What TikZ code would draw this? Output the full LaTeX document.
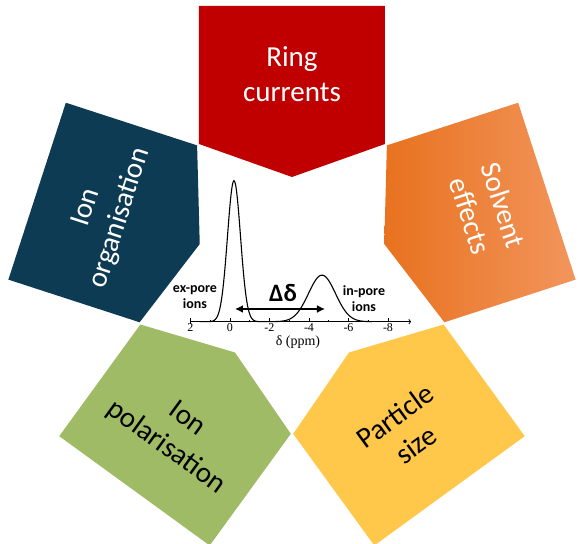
\documentclass[tikz,border=0pt]{standalone}
\usepackage{fontspec}
\setmainfont{Carlito}
\newfontfamily\axisfont{Liberation Serif}
\usetikzlibrary{arrows.meta}

\definecolor{ringred}{HTML}{C00000}
\definecolor{solvlight}{HTML}{F2955C}
\definecolor{solvdark}{HTML}{E8721F}
\definecolor{orgblue}{HTML}{0D3B53}
\definecolor{polgreen}{HTML}{9FBB65}
\definecolor{partyellow}{HTML}{FFC84A}

\begin{document}
\begin{tikzpicture}[
  x=1pt, y=1pt,
  petal/.style={draw=none},
  petal text/.style={font=\fontsize{29}{35}\selectfont, align=center},
  ion text/.style={font=\fontsize{14}{16}\selectfont\bfseries, align=center},
  ticklabel/.style={font=\axisfont\fontsize{12}{12}\selectfont, inner sep=0pt},
  spectrum/.style={line width=1.1pt},
  dd arrow/.style={{Latex[length=8pt,width=8pt]}-{Latex[length=8pt,width=8pt]}, line width=1.8pt}
]
\useasboundingbox (-292,-270) rectangle (287,274);

% Petals (all the same shape, turned round the centre)
\fill[petal, ringred] (-93,268) -- (93,268) -- (93,130) -- (0,97) -- (-93,130) -- cycle;
\shade[petal, left color=solvdark, right color=solvlight, rotate=-72]
  (-93,268) -- (93,268) -- (93,130) -- (0,97) -- (-93,130) -- cycle;
\fill[petal, orgblue, rotate=72] (-93,268) -- (93,268) -- (93,130) -- (0,97) -- (-93,130) -- cycle;
\fill[petal, polgreen, rotate=144] (-93,268) -- (93,268) -- (93,130) -- (0,97) -- (-93,130) -- cycle;
\fill[petal, partyellow, rotate=-144] (-93,268) -- (93,268) -- (93,130) -- (0,97) -- (-93,130) -- cycle;

% Petal labels
\node[petal text, white] (ring) at (90:200) {Ring\\currents};
\node[petal text, white, rotate=-72] (solvent) at (18:205) {Solvent\\effects};
\node[petal text, white, rotate=72] (organisation) at (162:198) {Ion\\organisation};
\node[petal text, rotate=-36] (polarisation) at (234:197) {Ion\\polarisation};
\node[petal text, rotate=36] (particle) at (306:193) {Particle\\size};

% Spectrum
\draw[line width=0.8pt, -{To[length=2.5pt]}] (-102,-47.7) -- (119,-47.7);
\draw[line width=0.6pt] (-102,-50) -- (-102,-45);
\foreach \p in {2,0,-2,-4,-6,-8}
  \draw[line width=0.6pt] ({-62-19.75*\p},-47.7) -- ++(0,3.5);
\foreach \p in {1,-1,-3,-5,-7}
  \draw[line width=0.6pt] ({-62-19.75*\p},-47.7) -- ++(0,2.2);
\node[ticklabel] (t2) at (-101.5,-54) {2};
\node[ticklabel] (t0) at (-62,-54) {0};
\node[ticklabel] (tm2) at (-22.5,-54) {-2};
\node[ticklabel] (tm4) at (17,-54) {-4};
\node[ticklabel] (tm6) at (56.5,-54) {-6};
\node[ticklabel] (tm8) at (96,-54) {-8};
\node[font=\axisfont\fontsize{14}{14}\selectfont] (ppm) at (6,-68) {δ (ppm)};

\draw[spectrum] plot[domain=-92:80, samples=240]
  (\x, {-47.7 + 141*exp(-0.5*((\x+58)/6.5)^2) + 46.5*exp(-0.5*((\x-30)/13.5)^2)});

\node[ion text] (expore) at (-97,-23) {ex-pore\\ions};
\node[ion text] (inpore) at (72,-25) {in-pore\\ions};

\coordinate (dl) at (-57,-35);
\coordinate (dr) at (33,-35);
\draw[dd arrow] (dl) -- (dr);
\node[font=\fontsize{25}{25}\selectfont\bfseries] (delta) at (-9,-19) {Δδ};

\end{tikzpicture}
\end{document}
